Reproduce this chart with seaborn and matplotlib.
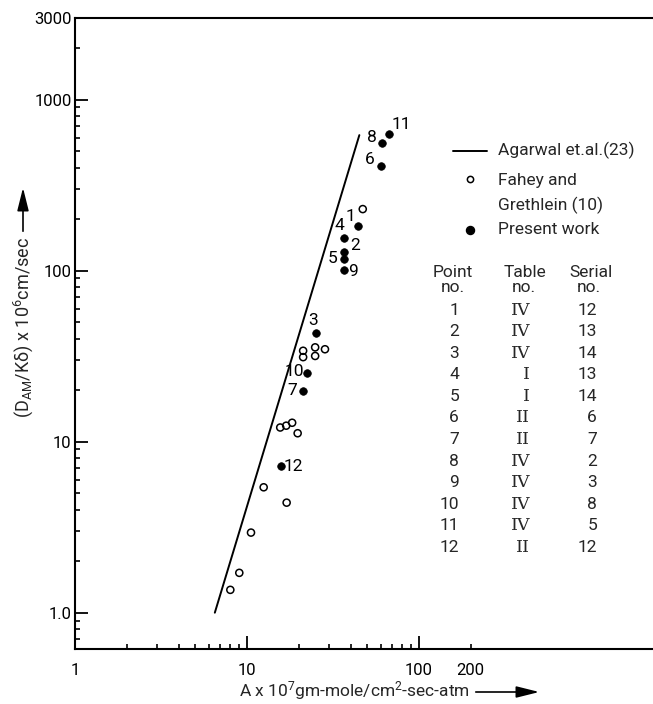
import numpy as np
import pandas as pd
import matplotlib
matplotlib.use("Agg")
import matplotlib.pyplot as plt
import seaborn as sns
from matplotlib.lines import Line2D

# ---- data -------------------------------------------------------------
# Correlation line of Agarwal et al. (23)
agarwal_x = [6.5, 45.0]
agarwal_y = [1.0, 620.0]

# Fahey and Grethlein (10), open circles
fahey_x = [47.1, 21.2, 21.2, 24.9, 24.9, 28.4, 15.6, 16.9, 18.3, 19.7,
           12.5, 17.0, 10.55, 9.02, 8.0]
fahey_y = [229, 34.0, 31.2, 35.6, 31.7, 34.7, 12.1, 12.4, 12.9, 11.2,
           5.41, 4.40, 2.94, 1.71, 1.36]

# Present work, filled circles, numbered as in the table
point_no = [1, 2, 3, 4, 5, 6, 7, 8, 9, 10, 11, 12]
present_x = [44.2, 36.6, 25.2, 36.6, 36.6, 59.9, 21.1, 61.2, 36.6, 22.4, 66.9, 15.7]
present_y = [182, 129, 43.0, 156, 117, 411, 19.9, 556, 101, 25.3, 630, 7.2]
table_no = ["IV", "IV", "IV", "I", "I", "II", "II", "IV", "IV", "IV", "IV", "II"]
serial_no = [12, 13, 14, 13, 14, 6, 7, 2, 3, 8, 5, 12]

x_major = [1, 10, 100]
x_major_labels = ["1", "10", "100"]
y_major = [1, 10, 100, 1000, 3000]
y_major_labels = ["1.0", "10", "100", "1000", "3000"]

# ---- style ------------------------------------------------------------
sns.set_theme(style="ticks")
plt.rcParams["font.family"] = ["Roboto", "DejaVu Sans"]
plt.rcParams["mathtext.fontset"] = "custom"
plt.rcParams["mathtext.rm"] = "Roboto"
plt.rcParams["mathtext.it"] = "Roboto:italic"
plt.rcParams["mathtext.bf"] = "Roboto:bold"

W, H = 653, 704
fig = plt.figure(figsize=(W / 100, H / 100), dpi=100)
ax = fig.add_axes([75 / W, 55 / H, 578 / W, 631 / H])


def fpos(px, py):
    """pixel position measured from the top-left corner -> figure fraction"""
    return px / W, 1 - py / H


present = pd.DataFrame({"x": present_x, "y": present_y, "no": point_no})
fahey = pd.DataFrame({"x": fahey_x, "y": fahey_y})
agarwal = pd.DataFrame({"x": agarwal_x, "y": agarwal_y})

sns.lineplot(data=agarwal, x="x", y="y", color="black", lw=1.4,
             estimator=None, sort=False, ax=ax)
sns.scatterplot(data=fahey, x="x", y="y", marker="o", s=26,
                facecolor="none", edgecolor="black", linewidth=1.1, ax=ax)
sns.scatterplot(data=present, x="x", y="y", marker="o", s=30,
                color="black", edgecolor="black", linewidth=0.5, ax=ax)

ax.set_xscale("log")
ax.set_yscale("log")
ax.set_xlim(1, 10 ** (578 / 172))
ax.set_ylim(10 ** (-36.3 / 171), 3000)

# point numbers next to the filled markers (offsets in pixels)
label_offsets = {1: (-8, 10), 2: (11, 6), 3: (-3, 13), 4: (-5, 12), 5: (-11, 0),
                 6: (-11, 6), 7: (-11, 0), 8: (-10, 6), 9: (9, -2), 10: (-13, 1),
                 11: (12, 9), 12: (13, 0)}
for _, r in present.iterrows():
    dx, dy = label_offsets[int(r["no"])]
    ax.annotate(str(int(r["no"])), (r["x"], r["y"]), xytext=(dx, dy),
                textcoords="offset pixels", ha="center", va="center",
                fontsize=12.5, color="black")

# ---- axes -------------------------------------------------------------
for side in ["left", "bottom", "top"]:
    ax.spines[side].set_linewidth(1.5)
    ax.spines[side].set_color("black")
ax.spines["right"].set_visible(False)

x_minor = [m * d for d in (1, 10) for m in range(2, 10)] + [200]
x_minor_labels = [""] * (len(x_minor) - 1) + ["200"]
ax.set_xticks(x_major, x_major_labels)
ax.set_xticks(x_minor, x_minor_labels, minor=True)

y_minor = [0.7, 0.8, 0.9] + [m * d for d in (1, 10, 100) for m in range(2, 10)] + [2000]
ax.set_yticks(y_major, y_major_labels)
ax.set_yticks(y_minor, [""] * len(y_minor), minor=True)

ax.tick_params(axis="both", which="major", direction="in", length=9.5, width=1.3,
               colors="black", labelsize=12)
ax.tick_params(axis="both", which="minor", direction="in", length=3.5, width=1.2,
               colors="black", labelsize=12)
ax.tick_params(axis="x", which="both", pad=10)
ax.tick_params(axis="y", which="both", pad=2.5)
ax.set_xlabel("")
ax.set_ylabel("")
ax.set_facecolor("white")

# axis titles with arrows
fig.text(*fpos(470, 691), "A x 10$^7$gm-mole/cm$^2$-sec-atm",
         ha="right", va="center", fontsize=12.5)
ax.annotate("", xy=(542, H - 692), xytext=(473, H - 692), xycoords="figure pixels",
            textcoords="figure pixels", annotation_clip=False,
            arrowprops=dict(arrowstyle="-|>,head_length=1.0,head_width=0.25",
                            lw=1.2, color="black", mutation_scale=14))

fig.text(*fpos(23, 237), "(D$_{\\rm AM}$/K\u03b4) x 10$^6$cm/sec",
         rotation=90, ha="center", va="top", fontsize=13)
ax.annotate("", xy=(23, H - 185), xytext=(23, H - 234), xycoords="figure pixels",
            textcoords="figure pixels", annotation_clip=False,
            arrowprops=dict(arrowstyle="-|>,head_length=1.0,head_width=0.25",
                            lw=1.2, color="black", mutation_scale=14))

# ---- legend -----------------------------------------------------------
fig.add_artist(Line2D([453 / W, 487 / W], [1 - 150.7 / H] * 2, color="black",
                      lw=1.4, transform=fig.transFigure))
fig.add_artist(Line2D([470 / W], [1 - 179 / H], marker="o", ms=4.5, mfc="none",
                      mec="black", mew=1.1, ls="", transform=fig.transFigure))
fig.add_artist(Line2D([470 / W], [1 - 230 / H], marker="o", ms=5.8, mfc="black",
                      mec="black", ls="", transform=fig.transFigure))
for txt, py in [("Agarwal et.al.(23)", 150), ("Fahey and", 180),
                ("Grethlein (10)", 205), ("Present work", 230)]:
    fig.text(*fpos(498, py), txt, ha="left", va="center", fontsize=12.5)

# ---- table of point numbers -------------------------------------------
for txt, px in [("Point", 453), ("Table", 525), ("Serial", 591)]:
    fig.text(*fpos(px, 273), txt, ha="center", va="center", fontsize=12.5)
for px in (453, 524, 589):
    fig.text(*fpos(px, 287), "no.", ha="center", va="center", fontsize=12.5,
             linespacing=1.0)
for i, (p, t, s) in enumerate(zip(point_no, table_no, serial_no)):
    py = 310 + 21.6 * i
    fig.text(*fpos(459, py), str(p), ha="right", va="center", fontsize=12.5)
    fig.text(*fpos(530, py), t, ha="right", va="center", fontsize=12.5,
             family=["DejaVu Serif"])
    fig.text(*fpos(597, py), str(s), ha="right", va="center", fontsize=12.5)

fig.savefig("out.png", dpi=100, facecolor="white")
